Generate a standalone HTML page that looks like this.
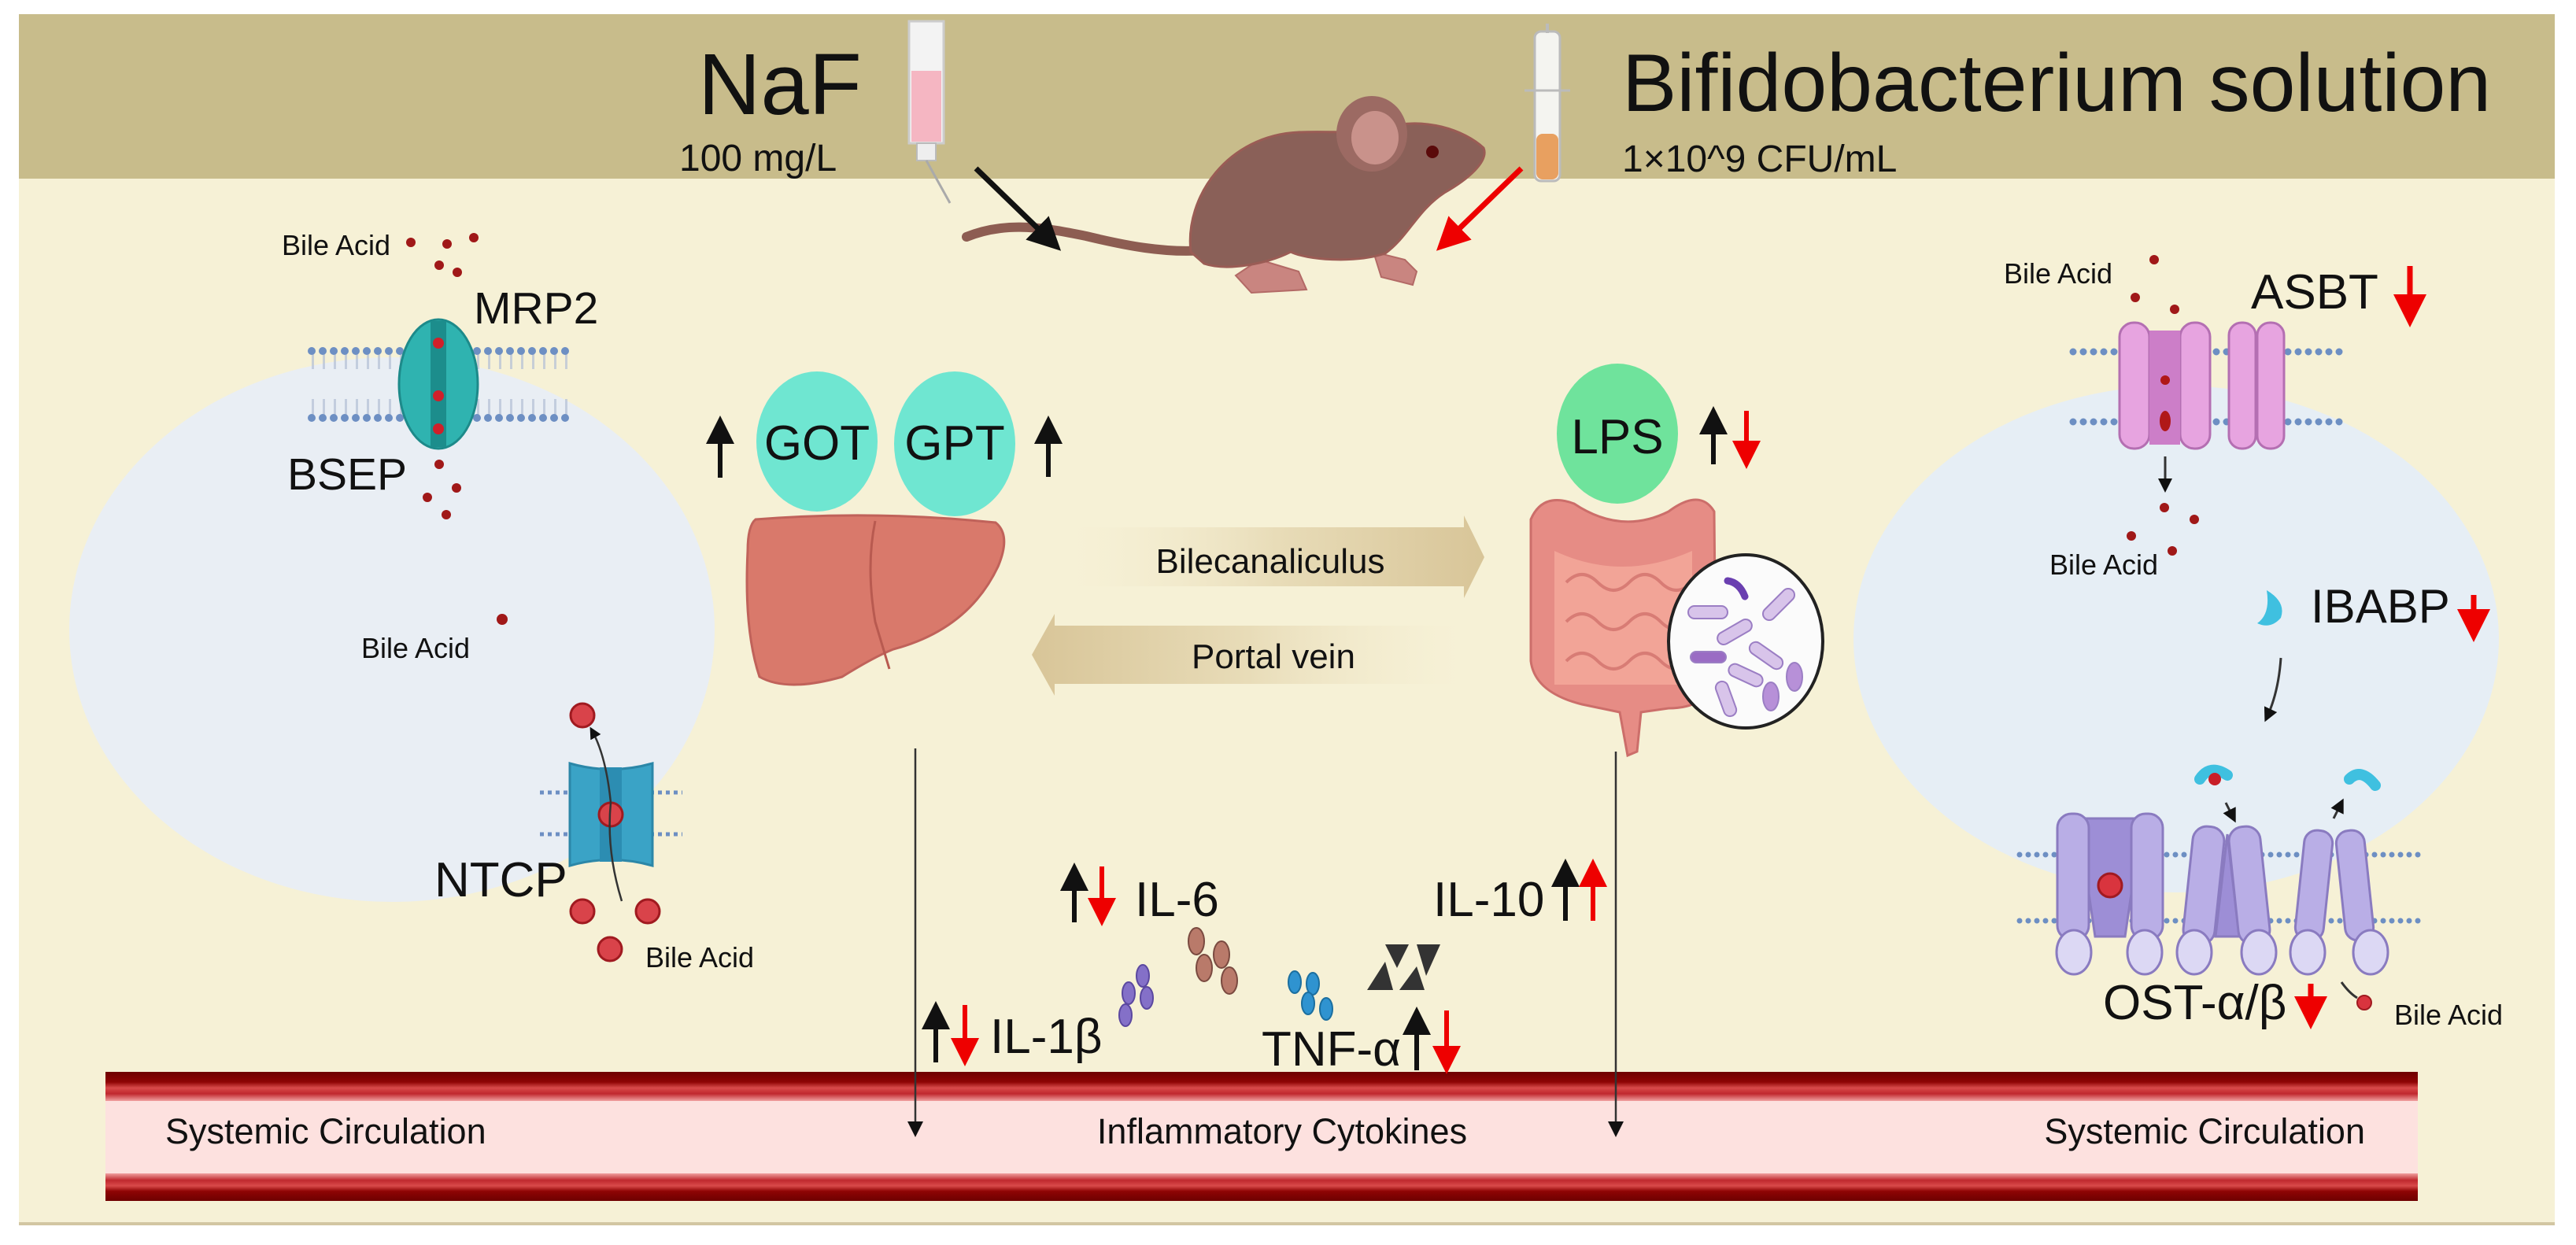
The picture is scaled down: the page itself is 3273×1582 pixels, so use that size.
<!DOCTYPE html>
<html><head><meta charset="utf-8"><style>
html,body{margin:0;padding:0;background:#fff;}
svg{display:block;}
text{font-family:"Liberation Sans",Arial,sans-serif;fill:#111;}
</style></head><body>
<svg width="3273" height="1582" viewBox="0 0 3273 1582" xmlns="http://www.w3.org/2000/svg">
<defs>
<linearGradient id="band" x1="0" y1="0" x2="0" y2="1">
<stop offset="0" stop-color="#6e0000"/><stop offset="0.35" stop-color="#8e0404"/><stop offset="0.55" stop-color="#d94a4a"/><stop offset="0.75" stop-color="#c0282e"/><stop offset="1" stop-color="#f0a0a0"/>
</linearGradient>
<linearGradient id="band2" x1="0" y1="1" x2="0" y2="0">
<stop offset="0" stop-color="#6e0000"/><stop offset="0.35" stop-color="#8e0404"/><stop offset="0.55" stop-color="#d94a4a"/><stop offset="0.75" stop-color="#c0282e"/><stop offset="1" stop-color="#f0a0a0"/>
</linearGradient>
<linearGradient id="arrR" x1="0" y1="0" x2="1" y2="0">
<stop offset="0" stop-color="#f4ecd0" stop-opacity="0"/><stop offset="0.5" stop-color="#e8dcb8"/><stop offset="1" stop-color="#d8c598"/>
</linearGradient>
<linearGradient id="arrL" x1="1" y1="0" x2="0" y2="0">
<stop offset="0" stop-color="#f4ecd0" stop-opacity="0"/><stop offset="0.5" stop-color="#e8dcb8"/><stop offset="1" stop-color="#d8c598"/>
</linearGradient>
<marker id="ah" markerWidth="8" markerHeight="8" refX="6" refY="4" orient="auto" markerUnits="strokeWidth"><path d="M0,0 L8,4 L0,8 z" fill="#111"/></marker>
<marker id="ahr" markerWidth="6" markerHeight="6" refX="4" refY="3" orient="auto" markerUnits="strokeWidth"><path d="M0,0 L6,3 L0,6 z" fill="#e00"/></marker>
<marker id="ahk" markerWidth="6" markerHeight="6" refX="4" refY="3" orient="auto" markerUnits="strokeWidth"><path d="M0,0 L6,3 L0,6 z" fill="#111"/></marker>
</defs>

<!-- frame -->
<rect x="24" y="18" width="3222" height="1538" fill="#f6f1d6"/>
<rect x="24" y="1553" width="3222" height="4" fill="#d2c6a2"/>
<rect x="24" y="18" width="3222" height="209" fill="#c8bc8b"/>

<!-- cells -->
<ellipse cx="498" cy="800" rx="410" ry="346" fill="#e9eef4"/>
<ellipse cx="2765" cy="812" rx="410" ry="322" fill="#e6eef5"/>

<!-- header texts -->
<text x="887" y="145" font-size="110">NaF</text>
<text x="863" y="217" font-size="48">100 mg/L</text>
<text x="2061" y="141" font-size="104">Bifidobacterium solution</text>
<text x="2061" y="218" font-size="48">1×10^9 CFU/mL</text>

<!-- syringes -->
<g>
<rect x="1155" y="27" width="44" height="155" fill="#f3f3f3" stroke="#ccc" stroke-width="3"/>
<rect x="1158" y="90" width="38" height="90" fill="#f5b6c2"/>
<rect x="1165" y="182" width="24" height="22" fill="#eee" stroke="#bbb" stroke-width="2"/>
<line x1="1177" y1="204" x2="1207" y2="258" stroke="#aaa" stroke-width="3"/>
<rect x="1950" y="40" width="32" height="190" rx="8" fill="#f4f4f0" stroke="#bbb" stroke-width="3"/>
<rect x="1952" y="170" width="28" height="58" rx="8" fill="#e8a060"/>
<line x1="1937" y1="115" x2="1995" y2="115" stroke="#bbb" stroke-width="3"/>
<line x1="1966" y1="30" x2="1966" y2="42" stroke="#bbb" stroke-width="4"/>
</g>

<!-- mouse -->
<g>
<path d="M1228,301 C1280,280 1330,290 1380,300 C1430,312 1480,322 1530,318" stroke="#8d5d52" stroke-width="12" fill="none" stroke-linecap="round"/>
<path d="M1600,330 L1570,350 L1590,372 L1660,368 L1650,345 Z" fill="#c98580" stroke="#b36a66" stroke-width="2"/>
<path d="M1745,320 L1755,352 L1795,362 L1800,345 L1785,330 Z" fill="#c98580" stroke="#b36a66" stroke-width="2"/>
<path d="M1513,320 C1505,250 1560,172 1650,168 C1700,166 1730,172 1760,162 C1810,148 1860,165 1885,188 C1892,205 1865,228 1835,245 C1800,268 1790,300 1760,322 C1720,335 1660,330 1640,320 C1610,335 1560,345 1530,335 Z" fill="#8a6058" stroke="#9a5c55" stroke-width="3"/>
<ellipse cx="1743" cy="170" rx="45" ry="48" fill="#9c6a63"/>
<ellipse cx="1747" cy="175" rx="30" ry="34" fill="#c9928b"/>
<circle cx="1820" cy="193" r="8" fill="#5a0a0a"/>
</g>
<line x1="1240" y1="214" x2="1338" y2="309" stroke="#111" stroke-width="7" marker-end="url(#ahk)"/>
<line x1="1933" y1="214" x2="1835" y2="309" stroke="#e00" stroke-width="7" marker-end="url(#ahr)"/>

<!-- left membrane MRP2/BSEP -->
<g>
<line x1="396" y1="458" x2="722" y2="458" stroke="#b4c0d6" stroke-width="22" stroke-dasharray="3 11" opacity="0.7"/>
<line x1="396" y1="518" x2="722" y2="518" stroke="#b4c0d6" stroke-width="22" stroke-dasharray="3 11" opacity="0.7"/>
<line x1="396" y1="446" x2="722" y2="446" stroke="#6d8fc3" stroke-width="10" stroke-linecap="round" stroke-dasharray="0 14"/>
<line x1="396" y1="531" x2="722" y2="531" stroke="#6d8fc3" stroke-width="10" stroke-linecap="round" stroke-dasharray="0 14"/>
<ellipse cx="557" cy="488" rx="50" ry="82" fill="#2fb3b0" stroke="#1d8a8a" stroke-width="3"/>
<rect x="547" y="408" width="20" height="160" fill="#1c8d8c"/>
<circle cx="557" cy="436" r="7" fill="#d0202a"/><circle cx="557" cy="503" r="7" fill="#d0202a"/><circle cx="557" cy="545" r="7" fill="#d0202a"/>
<text x="602" y="411" font-size="57">MRP2</text>
<text x="365" y="622" font-size="57">BSEP</text>
<text x="358" y="324" font-size="36">Bile Acid</text>
<g fill="#a01818"><circle cx="522" cy="308" r="6"/><circle cx="568" cy="310" r="6"/><circle cx="602" cy="302" r="6"/><circle cx="558" cy="337" r="6"/><circle cx="581" cy="346" r="6"/><circle cx="558" cy="590" r="6"/><circle cx="580" cy="620" r="6"/><circle cx="543" cy="632" r="6"/><circle cx="567" cy="654" r="6"/></g>
</g>

<!-- left Bile Acid / NTCP -->
<text x="459" y="836" font-size="36">Bile Acid</text>
<circle cx="638" cy="787" r="7" fill="#a01818"/>
<line x1="686" y1="1007" x2="867" y2="1007" stroke="#6d8fc3" stroke-width="5" stroke-dasharray="5 5"/>
<line x1="686" y1="1060" x2="867" y2="1060" stroke="#6d8fc3" stroke-width="5" stroke-dasharray="5 5"/>
<path d="M724,970 Q776,985 829,970 L829,1100 Q776,1085 724,1100 Z" fill="#3aa3c6" stroke="#2b87a8" stroke-width="3"/>
<rect x="762" y="975" width="28" height="120" fill="#2c8db2"/>
<circle cx="776" cy="1035" r="15" fill="#d9434a" stroke="#a01a20" stroke-width="3"/>
<path d="M790,1145 Q770,1080 776,1020 Q770,960 752,928" stroke="#333" stroke-width="2.5" fill="none" marker-end="url(#ahk)"/>
<g fill="#d9434a" stroke="#a01a20" stroke-width="3"><circle cx="740" cy="909" r="15"/><circle cx="740" cy="1158" r="15"/><circle cx="823" cy="1158" r="15"/><circle cx="775" cy="1206" r="15"/></g>
<text x="552" y="1139" font-size="62">NTCP</text>
<text x="820" y="1229" font-size="36">Bile Acid</text>

<!-- GOT GPT liver -->
<ellipse cx="1038" cy="561" rx="77" ry="89" fill="#6fe6d1"/>
<ellipse cx="1213" cy="564" rx="77" ry="92" fill="#6fe6d1"/>
<text x="1038" y="584" font-size="62" text-anchor="middle">GOT</text>
<text x="1213" y="584" font-size="62" text-anchor="middle">GPT</text>
<line x1="915" y1="607" x2="915" y2="540" stroke="#111" stroke-width="6" marker-end="url(#ahk)"/>
<line x1="1332" y1="606" x2="1332" y2="540" stroke="#111" stroke-width="6" marker-end="url(#ahk)"/>
<path d="M960,660 Q1110,648 1265,664 Q1285,680 1268,720 Q1230,800 1135,825 Q1110,835 1070,860 Q1000,880 965,860 Q945,800 950,700 Q950,668 960,660 Z" fill="#d9796b" stroke="#c0625a" stroke-width="3"/>
<path d="M1112,662 Q1100,720 1112,790 L1130,850" stroke="#b85a50" stroke-width="3" fill="none"/>

<!-- middle arrows -->
<path d="M1357,670 L1860,670 L1860,655 L1886,708 L1860,760 L1860,745 L1357,745 Z" fill="url(#arrR)"/>
<text x="1614" y="728" font-size="44" text-anchor="middle">Bilecanaliculus</text>
<path d="M1862,795 L1340,795 L1340,780 L1311,832 L1340,884 L1340,869 L1862,869 Z" fill="url(#arrL)"/>
<text x="1618" y="849" font-size="44" text-anchor="middle">Portal vein</text>

<!-- LPS / intestines -->
<ellipse cx="2055" cy="551" rx="77" ry="89" fill="#6fe39c"/>
<text x="2055" y="576" font-size="62" text-anchor="middle">LPS</text>
<line x1="2177" y1="590" x2="2177" y2="528" stroke="#111" stroke-width="6" marker-end="url(#ahk)"/>
<line x1="2219" y1="522" x2="2219" y2="584" stroke="#e00" stroke-width="6" marker-end="url(#ahr)"/>
<path d="M1945,660 Q1960,625 2000,640 Q2060,680 2120,650 Q2160,620 2178,650 L2180,860 Q2170,900 2120,900 L2085,905 L2080,955 L2068,960 L2058,905 L2010,895 Q1950,880 1945,840 Z" fill="#e68c85" stroke="#cc6e6a" stroke-width="3"/>
<path d="M1975,700 Q2060,740 2150,700 L2150,870 L1975,870 Z" fill="#f2a497"/>
<g stroke="#d87c75" stroke-width="4" fill="none"><path d="M1990,740 q20,-20 40,0 t40,0 t40,0 t40,0"/><path d="M1990,790 q20,-20 40,0 t40,0 t40,0 t40,0"/><path d="M1990,840 q20,-20 40,0 t40,0 t40,0 t40,0"/></g>
<ellipse cx="2218" cy="815" rx="98" ry="110" fill="#fbfbfb" stroke="#222" stroke-width="4"/>
<g fill="#d8c4ea" stroke="#9b7ec4" stroke-width="2">
<rect x="2145" y="770" width="50" height="16" rx="8"/><rect x="2180" y="795" width="48" height="16" rx="8" transform="rotate(-30 2204 803)"/>
<rect x="2235" y="760" width="50" height="16" rx="8" transform="rotate(-45 2260 768)"/><rect x="2220" y="825" width="48" height="16" rx="8" transform="rotate(35 2244 833)"/>
<rect x="2195" y="850" width="46" height="16" rx="8" transform="rotate(25 2218 858)"/><rect x="2170" y="880" width="46" height="16" rx="8" transform="rotate(70 2193 888)"/>
<ellipse cx="2250" cy="885" rx="10" ry="18" fill="#b790d8"/><ellipse cx="2280" cy="860" rx="10" ry="18" fill="#b790d8"/>
<rect x="2148" y="828" width="45" height="14" rx="7" fill="#9a6cc4"/></g>
<path d="M2195,738 q15,2 22,20" stroke="#6a3fb0" stroke-width="9" fill="none" stroke-linecap="round"/>

<!-- right ASBT -->
<line x1="2634" y1="447" x2="2973" y2="447" stroke="#6d8fc3" stroke-width="9" stroke-linecap="round" stroke-dasharray="0 13"/>
<line x1="2634" y1="536" x2="2973" y2="536" stroke="#6d8fc3" stroke-width="9" stroke-linecap="round" stroke-dasharray="0 13"/>
<g fill="#e7a4e0" stroke="#b46fb2" stroke-width="3">
<rect x="2693" y="410" width="38" height="160" rx="18"/><rect x="2770" y="410" width="38" height="160" rx="18"/>
<rect x="2832" y="410" width="34" height="160" rx="16"/><rect x="2868" y="410" width="34" height="160" rx="16"/></g>
<path d="M2731,420 L2770,420 L2770,565 L2731,565 Z" fill="#cc7ec8"/>
<circle cx="2751" cy="483" r="6" fill="#b01818"/><ellipse cx="2751" cy="535" rx="7" ry="13" fill="#b01818"/>
<text x="2546" y="360" font-size="36">Bile Acid</text>
<g fill="#a01818"><circle cx="2737" cy="330" r="6"/><circle cx="2713" cy="378" r="6"/><circle cx="2763" cy="393" r="6"/><circle cx="2750" cy="645" r="6"/><circle cx="2788" cy="660" r="6"/><circle cx="2708" cy="681" r="6"/><circle cx="2760" cy="700" r="6"/></g>
<line x1="2751" y1="580" x2="2751" y2="620" stroke="#333" stroke-width="3" marker-end="url(#ahk)"/>
<text x="2604" y="730" font-size="36">Bile Acid</text>
<text x="2860" y="392" font-size="62">ASBT</text>
<line x1="3062" y1="338" x2="3062" y2="402" stroke="#e00" stroke-width="7" marker-end="url(#ahr)"/>

<!-- IBABP -->
<path d="M2880,750 Q2905,765 2898,785 Q2885,800 2868,792 Q2885,780 2880,750 Z" fill="#3fc0e0"/>
<text x="2936" y="791" font-size="60">IBABP</text>
<line x1="3143" y1="756" x2="3143" y2="802" stroke="#e00" stroke-width="7" marker-end="url(#ahr)"/>
<path d="M2898,836 Q2895,880 2880,912" stroke="#333" stroke-width="3" fill="none" marker-end="url(#ahk)"/>

<!-- OST -->
<line x1="2566" y1="1086" x2="3083" y2="1086" stroke="#6d8fc3" stroke-width="7" stroke-linecap="round" stroke-dasharray="0 11"/>
<line x1="2566" y1="1170" x2="3083" y2="1170" stroke="#6d8fc3" stroke-width="7" stroke-linecap="round" stroke-dasharray="0 11"/>
<g stroke="#8a7bc0" stroke-width="3">
<path d="M2640,1040 L2722,1040 L2700,1190 L2662,1190 Z" fill="#9d8ed6"/>
<rect x="2614" y="1034" width="40" height="160" rx="18" fill="#b9aee6"/><rect x="2708" y="1034" width="40" height="160" rx="18" fill="#b9aee6"/>
<path d="M2830,1060 L2845,1190 L2815,1190 Z" fill="#9d8ed6"/>
<rect x="2780" y="1050" width="40" height="150" rx="18" fill="#b9aee6" transform="rotate(6 2800 1125)"/><rect x="2838" y="1050" width="40" height="150" rx="18" fill="#b9aee6" transform="rotate(-6 2858 1125)"/>
<rect x="2922" y="1055" width="36" height="140" rx="16" fill="#b9aee6" transform="rotate(6 2940 1125)"/><rect x="2974" y="1055" width="36" height="140" rx="16" fill="#b9aee6" transform="rotate(-6 2992 1125)"/>
<g fill="#dcd8f4"><ellipse cx="2635" cy="1210" rx="22" ry="28"/><ellipse cx="2725" cy="1210" rx="22" ry="28"/><ellipse cx="2788" cy="1210" rx="22" ry="28"/><ellipse cx="2870" cy="1210" rx="22" ry="28"/><ellipse cx="2932" cy="1210" rx="22" ry="28"/><ellipse cx="3012" cy="1210" rx="22" ry="28"/></g>
</g>
<circle cx="2681" cy="1125" r="15" fill="#d9343e" stroke="#a01a20" stroke-width="3"/>
<path d="M2795,990 Q2808,970 2830,985" stroke="#3fc0e0" stroke-width="14" fill="none" stroke-linecap="round"/>
<circle cx="2814" cy="990" r="8" fill="#c81e28"/>
<path d="M2985,990 Q3000,975 3018,998" stroke="#3fc0e0" stroke-width="14" fill="none" stroke-linecap="round"/>
<line x1="2828" y1="1020" x2="2838" y2="1040" stroke="#333" stroke-width="3" marker-end="url(#ahk)"/>
<line x1="2965" y1="1040" x2="2975" y2="1020" stroke="#333" stroke-width="3" marker-end="url(#ahk)"/>
<path d="M2975,1248 Q2985,1262 2995,1268" stroke="#333" stroke-width="3" fill="none"/>
<circle cx="3004" cy="1274" r="9" fill="#d9343e" stroke="#a01a20" stroke-width="2"/>
<text x="2672" y="1295" font-size="62">OST-α/β</text>
<line x1="2936" y1="1250" x2="2936" y2="1294" stroke="#e00" stroke-width="7" marker-end="url(#ahr)"/>
<text x="3042" y="1302" font-size="36">Bile Acid</text>

<!-- circulation -->
<rect x="134" y="1362" width="2938" height="164" fill="#fde1df"/>
<rect x="134" y="1362" width="2938" height="37" fill="url(#band)"/>
<rect x="134" y="1491" width="2938" height="35" fill="url(#band2)"/>
<text x="210" y="1453" font-size="45">Systemic Circulation</text>
<text x="1629" y="1453" font-size="45" text-anchor="middle">Inflammatory Cytokines</text>
<text x="3005" y="1453" font-size="45" text-anchor="end">Systemic Circulation</text>

<!-- vertical lines -->
<line x1="1163" y1="951" x2="1163" y2="1440" stroke="#333" stroke-width="2.5" marker-end="url(#ah)"/>
<line x1="2053" y1="955" x2="2053" y2="1440" stroke="#333" stroke-width="2.5" marker-end="url(#ah)"/>

<!-- cytokines -->
<g fill="#8470c8" stroke="#5b48a0" stroke-width="2"><ellipse cx="1452" cy="1240" rx="8" ry="14"/><ellipse cx="1457" cy="1268" rx="8" ry="14"/><ellipse cx="1434" cy="1262" rx="8" ry="14"/><ellipse cx="1430" cy="1290" rx="8" ry="14"/></g>
<g fill="#b97a6a" stroke="#7a4a40" stroke-width="2"><ellipse cx="1520" cy="1196" rx="10" ry="17"/><ellipse cx="1552" cy="1213" rx="10" ry="17"/><ellipse cx="1530" cy="1230" rx="10" ry="17"/><ellipse cx="1562" cy="1246" rx="10" ry="17"/></g>
<g fill="#2f93d0" stroke="#1b6fa0" stroke-width="2"><ellipse cx="1645" cy="1248" rx="8" ry="14"/><ellipse cx="1668" cy="1250" rx="8" ry="14"/><ellipse cx="1662" cy="1275" rx="8" ry="14"/><ellipse cx="1685" cy="1282" rx="8" ry="14"/></g>
<g fill="#333"><path d="M1760,1200 L1790,1200 L1775,1230 Z"/><path d="M1800,1200 L1830,1200 L1812,1240 Z"/><path d="M1737,1258 L1770,1258 L1760,1222 Z"/><path d="M1778,1258 L1810,1258 L1800,1228 Z"/></g>

<text x="1442" y="1164" font-size="62">IL-6</text>
<line x1="1365" y1="1172" x2="1365" y2="1108" stroke="#111" stroke-width="6" marker-end="url(#ahk)"/>
<line x1="1400" y1="1101" x2="1400" y2="1165" stroke="#e00" stroke-width="6" marker-end="url(#ahr)"/>
<text x="1821" y="1164" font-size="62">IL-10</text>
<line x1="1989" y1="1170" x2="1989" y2="1103" stroke="#111" stroke-width="6" marker-end="url(#ahk)"/>
<line x1="2024" y1="1170" x2="2024" y2="1103" stroke="#e00" stroke-width="6" marker-end="url(#ahr)"/>
<text x="1258" y="1338" font-size="62">IL-1β</text>
<line x1="1189" y1="1350" x2="1189" y2="1284" stroke="#111" stroke-width="6" marker-end="url(#ahk)"/>
<line x1="1226" y1="1277" x2="1226" y2="1343" stroke="#e00" stroke-width="6" marker-end="url(#ahr)"/>
<text x="1603" y="1354" font-size="62">TNF-α</text>
<line x1="1800" y1="1360" x2="1800" y2="1291" stroke="#111" stroke-width="6" marker-end="url(#ahk)"/>
<line x1="1838" y1="1284" x2="1838" y2="1353" stroke="#e00" stroke-width="6" marker-end="url(#ahr)"/>
</svg>
</body></html>
